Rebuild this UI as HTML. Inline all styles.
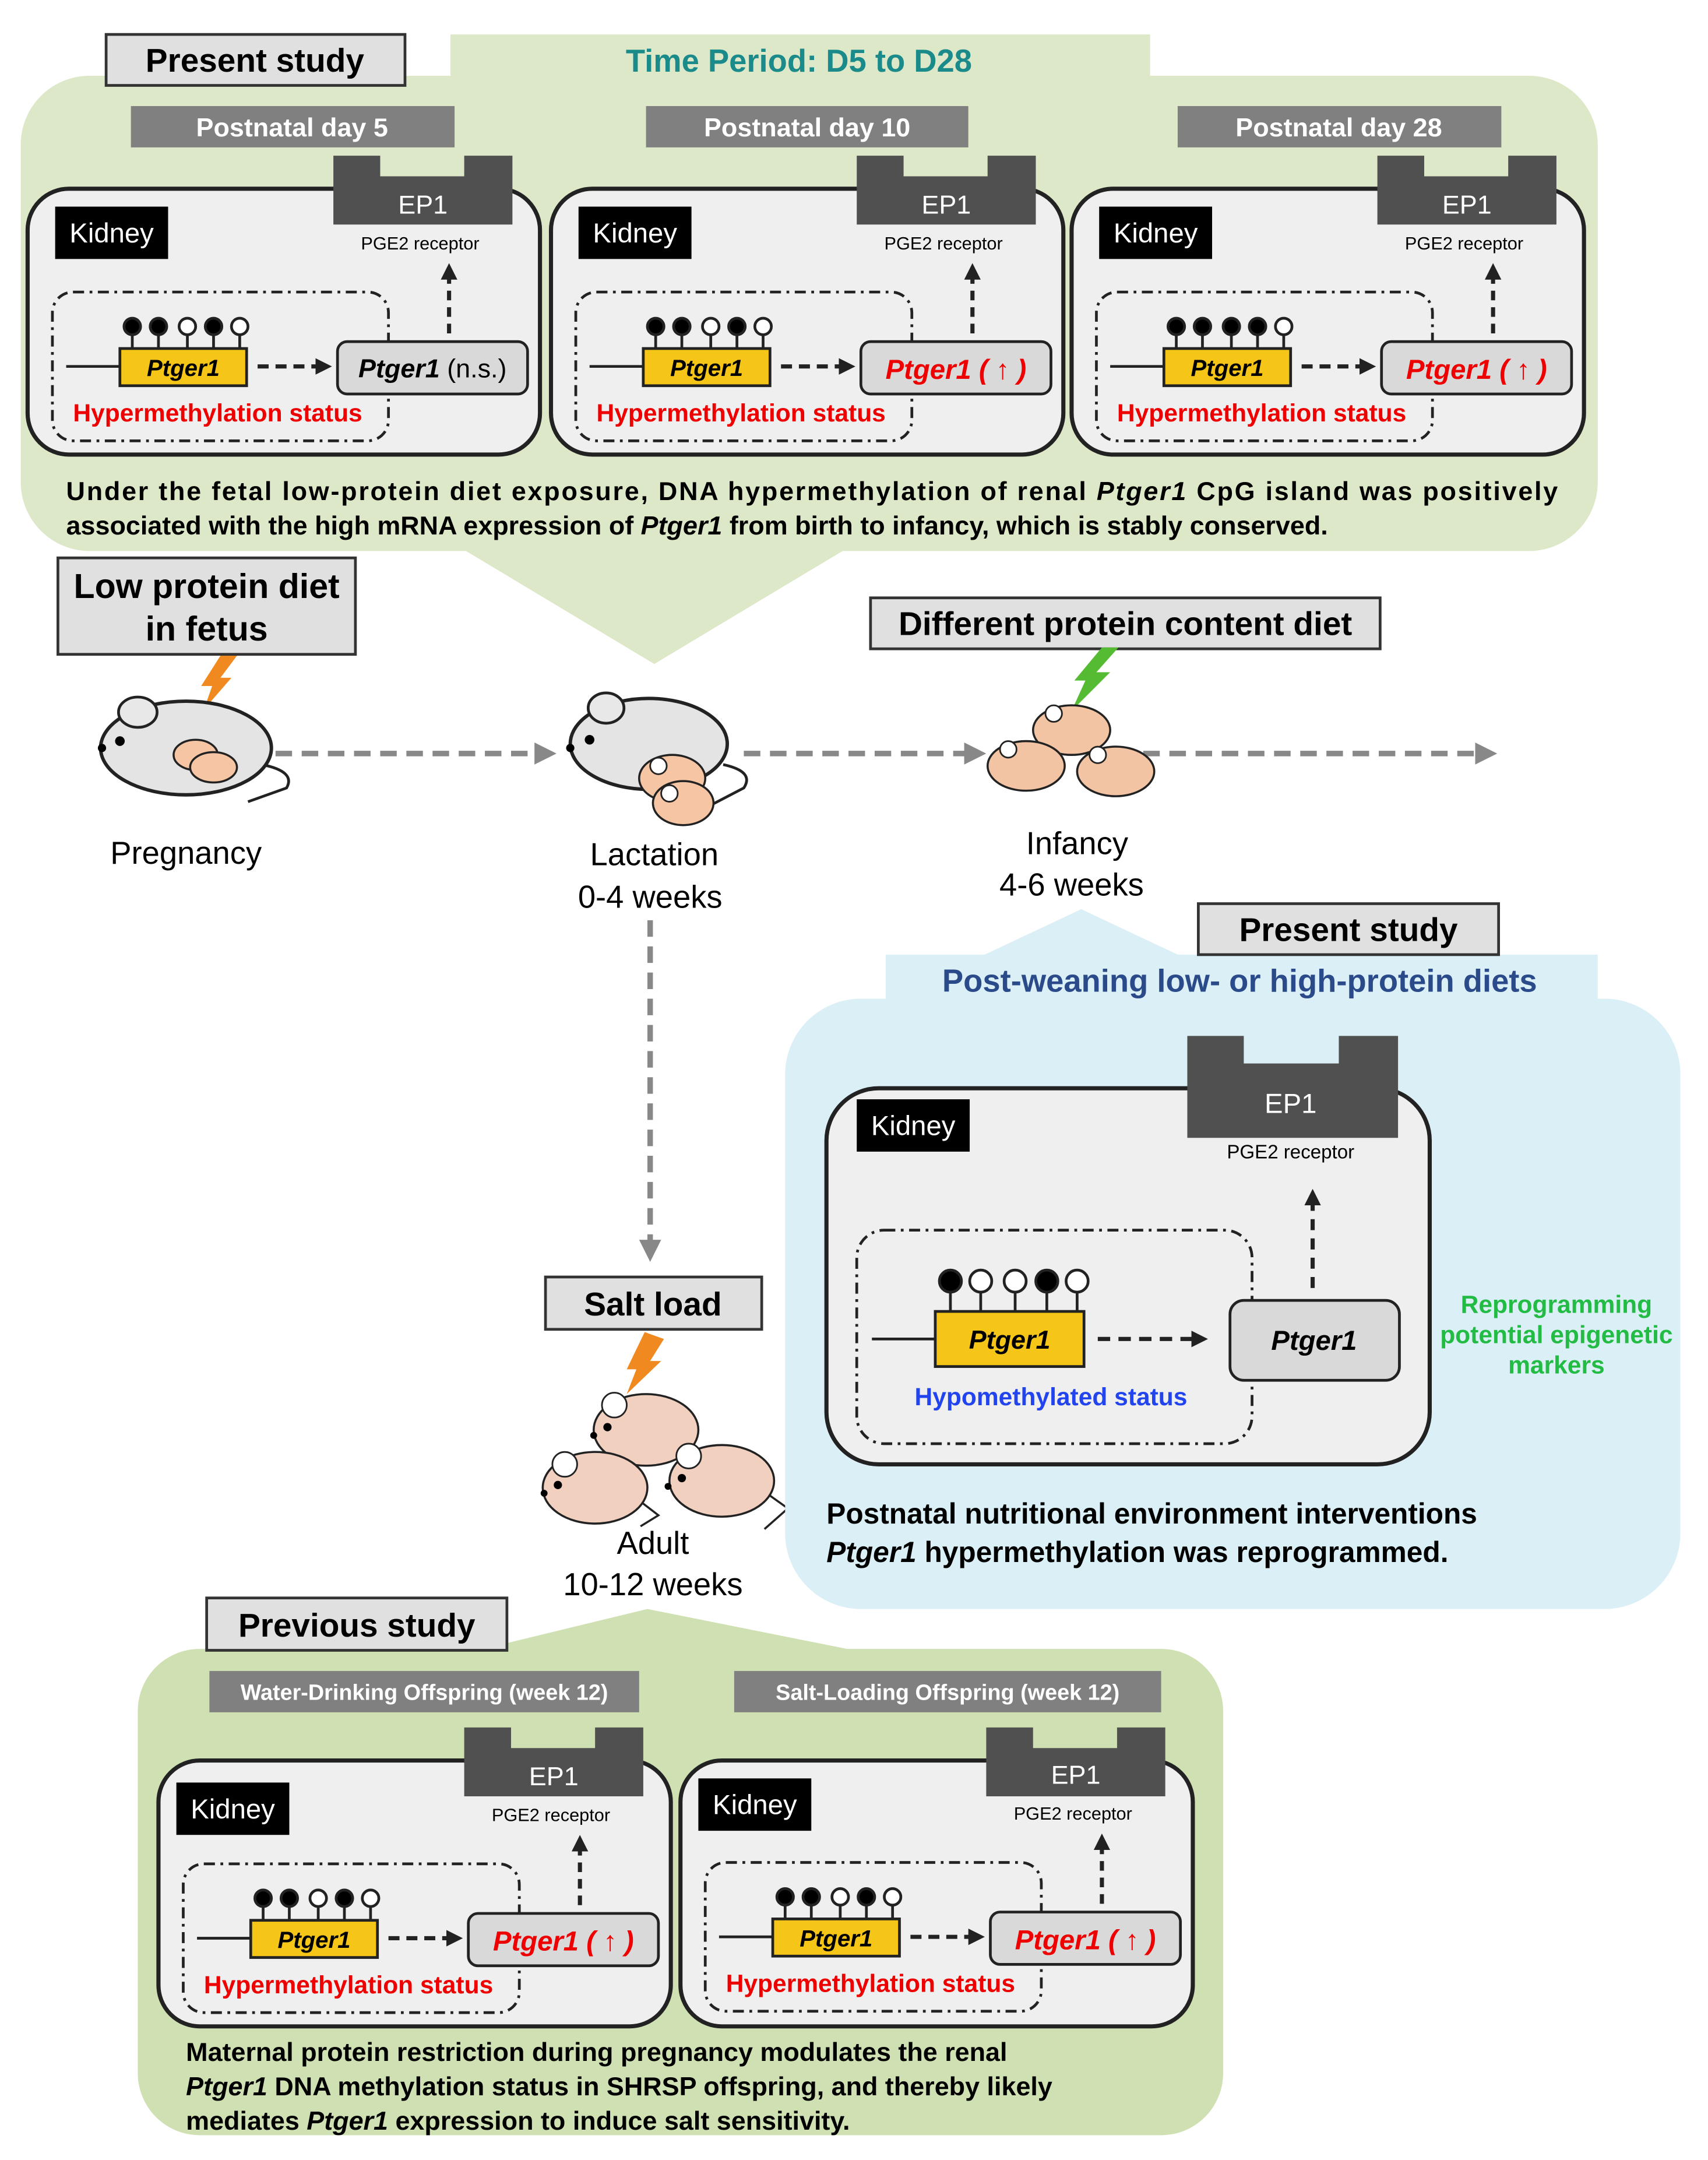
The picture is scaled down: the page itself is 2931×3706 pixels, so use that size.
<!DOCTYPE html>
<html><head><meta charset="utf-8"><style>
html,body{margin:0;padding:0;background:#fff}
svg{display:block}
text{font-family:"Liberation Sans",Arial,sans-serif}
.b{font-weight:bold}
.bi{font-weight:bold;font-style:italic}
</style></head><body>
<svg width="2931" height="3706" viewBox="0 0 1240 1568" xmlns="http://www.w3.org/2000/svg">
<defs>
<marker id="ah" markerWidth="4" markerHeight="4" refX="3" refY="2" orient="auto" markerUnits="strokeWidth"><path d="M0,0 L4,2 L0,4 z" fill="#222"/></marker>
<marker id="ag" markerWidth="4" markerHeight="4" refX="3" refY="2" orient="auto" markerUnits="strokeWidth"><path d="M0,0 L4,2 L0,4 z" fill="#888"/></marker>
</defs>

<!-- TOP GREEN -->
<g fill="#dce8c8">
<rect x="327" y="25" width="508" height="45"/>
<rect x="15" y="55" width="1145" height="345" rx="50"/>
<polygon points="330,395 620,395 475,482"/>
</g>
<rect x="77" y="25" width="217" height="37" fill="#e0e0e0" stroke="#333" stroke-width="2"/>
<text x="185" y="52" font-size="24" class="b" text-anchor="middle">Present study</text>
<text x="580" y="52" font-size="23" class="b" fill="#1a8a8a" text-anchor="middle">Time  Period: D5 to D28</text>
<rect x="95" y="77" width="235" height="30" fill="#808080"/>
<text x="212" y="99" font-size="19" class="b" fill="#fff" text-anchor="middle">Postnatal day 5</text>
<rect x="469" y="77" width="234" height="30" fill="#808080"/>
<text x="586" y="99" font-size="19" class="b" fill="#fff" text-anchor="middle">Postnatal day 10</text>
<rect x="855" y="77" width="235" height="30" fill="#808080"/>
<text x="972" y="99" font-size="19" class="b" fill="#fff" text-anchor="middle">Postnatal day 28</text>

<!-- panel 1 -->
<g transform="translate(0,0)">
<rect x="20" y="137" width="372" height="193" rx="30" fill="#efefef" stroke="#222" stroke-width="3"/>
<path d="M242,113 H276 V128 H337 V113 H372 V163 H242 Z" fill="#505050"/>
<text x="307" y="155" font-size="19" fill="#fff" text-anchor="middle">EP1</text>
<text x="305" y="181" font-size="13" text-anchor="middle">PGE2 receptor</text>
<rect x="40" y="150" width="82" height="38" fill="#000"/>
<text x="81" y="176" font-size="20" fill="#fff" text-anchor="middle">Kidney</text>
<rect x="38" y="212" width="244" height="108" rx="15" fill="none" stroke="#222" stroke-width="2" stroke-dasharray="8,4,2,4"/>
<line x1="326" y1="242" x2="326" y2="194" stroke="#222" stroke-width="3" stroke-dasharray="7,5" marker-end="url(#ah)"/>
<line x1="48" y1="266" x2="88" y2="266" stroke="#222" stroke-width="2"/>
<g stroke="#222" stroke-width="2"><line x1="96" y1="240" x2="96" y2="253"/><line x1="115" y1="240" x2="115" y2="253"/><line x1="136" y1="240" x2="136" y2="253"/><line x1="155" y1="240" x2="155" y2="253"/><line x1="174" y1="240" x2="174" y2="253"/>
<circle cx="96" cy="237" r="6" fill="#000"/><circle cx="115" cy="237" r="6" fill="#000"/><circle cx="136" cy="237" r="6" fill="#fff"/><circle cx="155" cy="237" r="6" fill="#000"/><circle cx="174" cy="237" r="6" fill="#fff"/></g>
<rect x="87" y="253" width="92" height="27" fill="#f5c518" stroke="#222" stroke-width="2"/>
<text x="133" y="273" font-size="17" class="bi" text-anchor="middle">Ptger1</text>
<line x1="187" y1="266" x2="238" y2="266" stroke="#222" stroke-width="3" stroke-dasharray="8,5" marker-end="url(#ah)"/>
<rect x="245" y="248" width="138" height="38" rx="7" fill="#d9d9d9" stroke="#222" stroke-width="2"/>
<text x="314" y="274" font-size="19" text-anchor="middle"><tspan class="bi">Ptger1</tspan> (n.s.)</text>
<text x="158" y="306" font-size="18" class="b" fill="#e00" text-anchor="middle">Hypermethylation status</text>
</g>

<!-- panel 2 -->
<g transform="translate(380,0)">
<rect x="20" y="137" width="372" height="193" rx="30" fill="#efefef" stroke="#222" stroke-width="3"/>
<path d="M242,113 H276 V128 H337 V113 H372 V163 H242 Z" fill="#505050"/>
<text x="307" y="155" font-size="19" fill="#fff" text-anchor="middle">EP1</text>
<text x="305" y="181" font-size="13" text-anchor="middle">PGE2 receptor</text>
<rect x="40" y="150" width="82" height="38" fill="#000"/>
<text x="81" y="176" font-size="20" fill="#fff" text-anchor="middle">Kidney</text>
<rect x="38" y="212" width="244" height="108" rx="15" fill="none" stroke="#222" stroke-width="2" stroke-dasharray="8,4,2,4"/>
<line x1="326" y1="242" x2="326" y2="194" stroke="#222" stroke-width="3" stroke-dasharray="7,5" marker-end="url(#ah)"/>
<line x1="48" y1="266" x2="88" y2="266" stroke="#222" stroke-width="2"/>
<g stroke="#222" stroke-width="2"><line x1="96" y1="240" x2="96" y2="253"/><line x1="115" y1="240" x2="115" y2="253"/><line x1="136" y1="240" x2="136" y2="253"/><line x1="155" y1="240" x2="155" y2="253"/><line x1="174" y1="240" x2="174" y2="253"/>
<circle cx="96" cy="237" r="6" fill="#000"/><circle cx="115" cy="237" r="6" fill="#000"/><circle cx="136" cy="237" r="6" fill="#fff"/><circle cx="155" cy="237" r="6" fill="#000"/><circle cx="174" cy="237" r="6" fill="#fff"/></g>
<rect x="87" y="253" width="92" height="27" fill="#f5c518" stroke="#222" stroke-width="2"/>
<text x="133" y="273" font-size="17" class="bi" text-anchor="middle">Ptger1</text>
<line x1="187" y1="266" x2="238" y2="266" stroke="#222" stroke-width="3" stroke-dasharray="8,5" marker-end="url(#ah)"/>
<rect x="245" y="248" width="138" height="38" rx="7" fill="#d9d9d9" stroke="#222" stroke-width="2"/>
<text x="314" y="275" font-size="20" class="bi" fill="#e00" text-anchor="middle">Ptger1 ( ↑ )</text>
<text x="158" y="306" font-size="18" class="b" fill="#e00" text-anchor="middle">Hypermethylation status</text>
</g>

<!-- panel 3 -->
<g transform="translate(758,0)">
<rect x="20" y="137" width="372" height="193" rx="30" fill="#efefef" stroke="#222" stroke-width="3"/>
<path d="M242,113 H276 V128 H337 V113 H372 V163 H242 Z" fill="#505050"/>
<text x="307" y="155" font-size="19" fill="#fff" text-anchor="middle">EP1</text>
<text x="305" y="181" font-size="13" text-anchor="middle">PGE2 receptor</text>
<rect x="40" y="150" width="82" height="38" fill="#000"/>
<text x="81" y="176" font-size="20" fill="#fff" text-anchor="middle">Kidney</text>
<rect x="38" y="212" width="244" height="108" rx="15" fill="none" stroke="#222" stroke-width="2" stroke-dasharray="8,4,2,4"/>
<line x1="326" y1="242" x2="326" y2="194" stroke="#222" stroke-width="3" stroke-dasharray="7,5" marker-end="url(#ah)"/>
<line x1="48" y1="266" x2="88" y2="266" stroke="#222" stroke-width="2"/>
<g stroke="#222" stroke-width="2"><line x1="96" y1="240" x2="96" y2="253"/><line x1="115" y1="240" x2="115" y2="253"/><line x1="136" y1="240" x2="136" y2="253"/><line x1="155" y1="240" x2="155" y2="253"/><line x1="174" y1="240" x2="174" y2="253"/>
<circle cx="96" cy="237" r="6" fill="#000"/><circle cx="115" cy="237" r="6" fill="#000"/><circle cx="136" cy="237" r="6" fill="#000"/><circle cx="155" cy="237" r="6" fill="#000"/><circle cx="174" cy="237" r="6" fill="#fff"/></g>
<rect x="87" y="253" width="92" height="27" fill="#f5c518" stroke="#222" stroke-width="2"/>
<text x="133" y="273" font-size="17" class="bi" text-anchor="middle">Ptger1</text>
<line x1="187" y1="266" x2="238" y2="266" stroke="#222" stroke-width="3" stroke-dasharray="8,5" marker-end="url(#ah)"/>
<rect x="245" y="248" width="138" height="38" rx="7" fill="#d9d9d9" stroke="#222" stroke-width="2"/>
<text x="314" y="275" font-size="20" class="bi" fill="#e00" text-anchor="middle">Ptger1 ( ↑ )</text>
<text x="158" y="306" font-size="18" class="b" fill="#e00" text-anchor="middle">Hypermethylation status</text>
</g>

<text x="48" y="363" font-size="19" class="b" textLength="1083" lengthAdjust="spacing">Under the fetal low-protein diet exposure, DNA hypermethylation of renal <tspan class="bi">Ptger1</tspan> CpG island was positively</text>
<text x="48" y="388" font-size="19" class="b">associated with the high mRNA expression of <tspan class="bi">Ptger1</tspan> from birth to infancy, which is stably conserved.</text>

<!-- middle timeline -->
<rect x="42" y="405" width="216" height="70" fill="#e0e0e0" stroke="#333" stroke-width="2"/>
<text x="150" y="434" font-size="25" class="b" text-anchor="middle">Low protein diet</text>
<text x="150" y="465" font-size="25" class="b" text-anchor="middle">in fetus</text>
<rect x="632" y="434" width="370" height="37" fill="#e0e0e0" stroke="#333" stroke-width="2"/>
<text x="817" y="461" font-size="24" class="b" text-anchor="middle">Different protein content diet</text>

<line x1="200" y1="547" x2="400" y2="547" stroke="#888" stroke-width="4" stroke-dasharray="12,7" marker-end="url(#ag)"/>
<line x1="540" y1="547" x2="712" y2="547" stroke="#888" stroke-width="4" stroke-dasharray="12,7" marker-end="url(#ag)"/>
<line x1="830" y1="547" x2="1083" y2="547" stroke="#888" stroke-width="4" stroke-dasharray="12,7" marker-end="url(#ag)"/>
<line x1="472" y1="668" x2="472" y2="912" stroke="#888" stroke-width="4" stroke-dasharray="12,7" marker-end="url(#ag)"/>

<!-- pregnancy mouse -->
<polygon points="160,476 172,476 160,492 168,492 148,515 154,498 146,498" fill="#f08a20"/>
<path d="M190,555 Q215,560 208,572 L180,582" fill="none" stroke="#222" stroke-width="2"/>
<ellipse cx="135" cy="543" rx="62" ry="34" fill="#e4e4e4" stroke="#222" stroke-width="2.5"/>
<ellipse cx="100" cy="517" rx="14" ry="11" fill="#e8e8e8" stroke="#222" stroke-width="2"/>
<circle cx="87" cy="538" r="3.5" fill="#000"/><circle cx="74" cy="543" r="3" fill="#000"/>
<ellipse cx="142" cy="548" rx="16" ry="11" fill="#f6c6a4" stroke="#222" stroke-width="1.5"/>
<ellipse cx="155" cy="557" rx="17" ry="11" fill="#f6c6a4" stroke="#222" stroke-width="1.5"/>

<!-- lactation mouse -->
<path d="M525,555 Q548,560 540,572 L515,585" fill="none" stroke="#222" stroke-width="2"/>
<ellipse cx="471" cy="540" rx="57" ry="33" fill="#e4e4e4" stroke="#222" stroke-width="2.5"/>
<ellipse cx="440" cy="514" rx="13" ry="11" fill="#e8e8e8" stroke="#222" stroke-width="2"/>
<circle cx="428" cy="537" r="3.5" fill="#000"/><circle cx="414" cy="543" r="3" fill="#000"/>
<ellipse cx="488" cy="565" rx="24" ry="17" fill="#f6c6a4" stroke="#222" stroke-width="1.5"/>
<ellipse cx="496" cy="583" rx="22" ry="16" fill="#f6c6a4" stroke="#222" stroke-width="1.5"/>
<circle cx="478" cy="556" r="6" fill="#fff" stroke="#222" stroke-width="1.2"/>
<circle cx="486" cy="576" r="6" fill="#fff" stroke="#222" stroke-width="1.2"/>

<!-- infancy mice -->
<polygon points="800,470 812,470 796,488 806,488 778,516 788,494 780,494" fill="#55bb33"/>
<ellipse cx="778" cy="530" rx="28" ry="18" fill="#f3c4a4" stroke="#222" stroke-width="1.5"/>
<ellipse cx="745" cy="556" rx="28" ry="18" fill="#f3c4a4" stroke="#222" stroke-width="1.5"/>
<ellipse cx="810" cy="560" rx="28" ry="18" fill="#f3c4a4" stroke="#222" stroke-width="1.5"/>
<circle cx="765" cy="518" r="6" fill="#fff" stroke="#222" stroke-width="1.2"/>
<circle cx="732" cy="544" r="6" fill="#fff" stroke="#222" stroke-width="1.2"/>
<circle cx="797" cy="548" r="6" fill="#fff" stroke="#222" stroke-width="1.2"/>

<text x="135" y="627" font-size="23" text-anchor="middle">Pregnancy</text>
<text x="475" y="628" font-size="23" text-anchor="middle">Lactation</text>
<text x="472" y="659" font-size="23" text-anchor="middle">0-4 weeks</text>
<text x="782" y="620" font-size="23" text-anchor="middle">Infancy</text>
<text x="778" y="650" font-size="23" text-anchor="middle">4-6 weeks</text>

<!-- salt load -->
<rect x="396" y="927" width="157" height="38" fill="#e0e0e0" stroke="#333" stroke-width="2"/>
<text x="474" y="955" font-size="24" class="b" text-anchor="middle">Salt load</text>
<polygon points="468,967 482,972 472,988 480,988 455,1012 462,994 455,994" fill="#f08a20"/>
<g stroke="#222" stroke-width="1.5" fill="none"><path d="M500,1050 L512,1058 L500,1068"/><path d="M465,1090 L478,1100 L465,1108"/><path d="M558,1085 L572,1095 L555,1110"/></g>
<ellipse cx="469" cy="1038" rx="38" ry="26" fill="#f1d0c0" stroke="#222" stroke-width="1.5"/>
<ellipse cx="432" cy="1080" rx="38" ry="26" fill="#f1d0c0" stroke="#222" stroke-width="1.5"/>
<ellipse cx="524" cy="1075" rx="38" ry="26" fill="#f1d0c0" stroke="#222" stroke-width="1.5"/>
<g fill="#fff" stroke="#222" stroke-width="1.2"><circle cx="446" cy="1020" r="9"/><circle cx="410" cy="1063" r="9"/><circle cx="500" cy="1057" r="9"/></g>
<g fill="#000"><circle cx="441" cy="1036" r="3"/><circle cx="405" cy="1078" r="3"/><circle cx="495" cy="1073" r="3"/><circle cx="431" cy="1042" r="2.5"/><circle cx="395" cy="1084" r="2.5"/><circle cx="485" cy="1079" r="2.5"/></g>
<text x="474" y="1128" font-size="23" text-anchor="middle">Adult</text>
<text x="474" y="1158" font-size="23" text-anchor="middle">10-12 weeks</text>

<!-- BLUE REGION -->
<g fill="#dbeff6">
<rect x="643" y="693" width="517" height="45"/>
<rect x="570" y="725" width="650" height="443" rx="55"/>
<polygon points="700,700 870,700 785,660"/>
</g>
<rect x="870" y="656" width="218" height="37" fill="#e0e0e0" stroke="#333" stroke-width="2"/>
<text x="979" y="683" font-size="24" class="b" text-anchor="middle">Present study</text>
<text x="900" y="720" font-size="23" class="b" fill="#2a4a8a" text-anchor="middle">Post-weaning low- or high-protein diets</text>
<rect x="600" y="790" width="438" height="273" rx="38" fill="#efefef" stroke="#222" stroke-width="3"/>
<path d="M862,752 H903 V772 H972 V752 H1015 V826 H862 Z" fill="#505050"/>
<text x="937" y="808" font-size="20" fill="#fff" text-anchor="middle">EP1</text>
<text x="937" y="841" font-size="14" text-anchor="middle">PGE2 receptor</text>
<rect x="622" y="798" width="82" height="38" fill="#000"/>
<text x="663" y="824" font-size="20" fill="#fff" text-anchor="middle">Kidney</text>
<rect x="622" y="893" width="287" height="155" rx="20" fill="none" stroke="#222" stroke-width="2" stroke-dasharray="8,4,2,4"/>
<line x1="953" y1="935" x2="953" y2="866" stroke="#222" stroke-width="3" stroke-dasharray="8,6" marker-end="url(#ah)"/>
<line x1="633" y1="972" x2="680" y2="972" stroke="#222" stroke-width="2"/>
<g stroke="#222" stroke-width="2"><line x1="690" y1="935" x2="690" y2="952"/><line x1="712" y1="935" x2="712" y2="952"/><line x1="737" y1="935" x2="737" y2="952"/><line x1="760" y1="935" x2="760" y2="952"/><line x1="782" y1="935" x2="782" y2="952"/>
<circle cx="690" cy="930" r="8" fill="#000"/><circle cx="712" cy="930" r="8" fill="#fff"/><circle cx="737" cy="930" r="8" fill="#fff"/><circle cx="760" cy="930" r="8" fill="#000"/><circle cx="782" cy="930" r="8" fill="#fff"/></g>
<rect x="679" y="952" width="108" height="40" fill="#f5c518" stroke="#222" stroke-width="2"/>
<text x="733" y="979" font-size="19" class="bi" text-anchor="middle">Ptger1</text>
<line x1="797" y1="972" x2="874" y2="972" stroke="#222" stroke-width="3" stroke-dasharray="9,6" marker-end="url(#ah)"/>
<rect x="893" y="944" width="123" height="58" rx="10" fill="#d9d9d9" stroke="#222" stroke-width="2"/>
<text x="954" y="980" font-size="20" class="bi" text-anchor="middle">Ptger1</text>
<text x="763" y="1020" font-size="18" class="b" fill="#2244ee" text-anchor="middle">Hypomethylated status</text>
<text x="1130" y="953" font-size="18" class="b" fill="#22bb44" text-anchor="middle">Reprogramming</text>
<text x="1130" y="975" font-size="18" class="b" fill="#22bb44" text-anchor="middle">potential epigenetic</text>
<text x="1130" y="997" font-size="18" class="b" fill="#22bb44" text-anchor="middle">markers</text>
<text x="600" y="1106" font-size="21" class="b">Postnatal nutritional environment interventions</text>
<text x="600" y="1134" font-size="21" class="b"><tspan class="bi">Ptger1</tspan> hypermethylation was reprogrammed.</text>

<!-- BOTTOM GREEN -->
<g fill="#cfe0b2">
<rect x="100" y="1197" width="788" height="353" rx="45"/>
<polygon points="330,1202 640,1202 470,1168"/>
</g>
<rect x="150" y="1160" width="218" height="38" fill="#e0e0e0" stroke="#333" stroke-width="2"/>
<text x="259" y="1188" font-size="24" class="b" text-anchor="middle">Previous study</text>
<rect x="152" y="1213" width="312" height="30" fill="#808080"/>
<text x="308" y="1234" font-size="16" class="b" fill="#fff" text-anchor="middle">Water-Drinking Offspring (week 12)</text>
<rect x="533" y="1213" width="310" height="30" fill="#808080"/>
<text x="688" y="1234" font-size="16" class="b" fill="#fff" text-anchor="middle">Salt-Loading Offspring (week 12)</text>

<g transform="translate(95,1141)">
<rect x="20" y="137" width="372" height="193" rx="30" fill="#efefef" stroke="#222" stroke-width="3"/>
<path d="M242,113 H276 V128 H337 V113 H372 V163 H242 Z" fill="#505050"/>
<text x="307" y="155" font-size="19" fill="#fff" text-anchor="middle">EP1</text>
<text x="305" y="181" font-size="13" text-anchor="middle">PGE2 receptor</text>
<rect x="33" y="153" width="82" height="38" fill="#000"/>
<text x="74" y="179" font-size="20" fill="#fff" text-anchor="middle">Kidney</text>
<rect x="38" y="212" width="244" height="108" rx="15" fill="none" stroke="#222" stroke-width="2" stroke-dasharray="8,4,2,4"/>
<line x1="326" y1="242" x2="326" y2="194" stroke="#222" stroke-width="3" stroke-dasharray="7,5" marker-end="url(#ah)"/>
<line x1="48" y1="266" x2="88" y2="266" stroke="#222" stroke-width="2"/>
<g stroke="#222" stroke-width="2"><line x1="96" y1="240" x2="96" y2="253"/><line x1="115" y1="240" x2="115" y2="253"/><line x1="136" y1="240" x2="136" y2="253"/><line x1="155" y1="240" x2="155" y2="253"/><line x1="174" y1="240" x2="174" y2="253"/>
<circle cx="96" cy="237" r="6" fill="#000"/><circle cx="115" cy="237" r="6" fill="#000"/><circle cx="136" cy="237" r="6" fill="#fff"/><circle cx="155" cy="237" r="6" fill="#000"/><circle cx="174" cy="237" r="6" fill="#fff"/></g>
<rect x="87" y="253" width="92" height="27" fill="#f5c518" stroke="#222" stroke-width="2"/>
<text x="133" y="273" font-size="17" class="bi" text-anchor="middle">Ptger1</text>
<line x1="187" y1="266" x2="238" y2="266" stroke="#222" stroke-width="3" stroke-dasharray="8,5" marker-end="url(#ah)"/>
<rect x="245" y="248" width="138" height="38" rx="7" fill="#d9d9d9" stroke="#222" stroke-width="2"/>
<text x="314" y="275" font-size="20" class="bi" fill="#e00" text-anchor="middle">Ptger1 ( ↑ )</text>
<text x="158" y="306" font-size="18" class="b" fill="#e00" text-anchor="middle">Hypermethylation status</text>
</g>

<g transform="translate(474,1138)">
<rect x="20" y="140" width="372" height="193" rx="30" fill="#efefef" stroke="#222" stroke-width="3"/>
<path d="M242,116 H276 V131 H337 V116 H372 V166 H242 Z" fill="#505050"/>
<text x="307" y="157" font-size="19" fill="#fff" text-anchor="middle">EP1</text>
<text x="305" y="183" font-size="13" text-anchor="middle">PGE2 receptor</text>
<rect x="33" y="153" width="82" height="38" fill="#000"/>
<text x="74" y="179" font-size="20" fill="#fff" text-anchor="middle">Kidney</text>
<rect x="38" y="214" width="244" height="108" rx="15" fill="none" stroke="#222" stroke-width="2" stroke-dasharray="8,4,2,4"/>
<line x1="326" y1="244" x2="326" y2="196" stroke="#222" stroke-width="3" stroke-dasharray="7,5" marker-end="url(#ah)"/>
<line x1="48" y1="268" x2="88" y2="268" stroke="#222" stroke-width="2"/>
<g stroke="#222" stroke-width="2"><line x1="96" y1="242" x2="96" y2="255"/><line x1="115" y1="242" x2="115" y2="255"/><line x1="136" y1="242" x2="136" y2="255"/><line x1="155" y1="242" x2="155" y2="255"/><line x1="174" y1="242" x2="174" y2="255"/>
<circle cx="96" cy="239" r="6" fill="#000"/><circle cx="115" cy="239" r="6" fill="#000"/><circle cx="136" cy="239" r="6" fill="#fff"/><circle cx="155" cy="239" r="6" fill="#000"/><circle cx="174" cy="239" r="6" fill="#fff"/></g>
<rect x="87" y="255" width="92" height="27" fill="#f5c518" stroke="#222" stroke-width="2"/>
<text x="133" y="275" font-size="17" class="bi" text-anchor="middle">Ptger1</text>
<line x1="187" y1="268" x2="238" y2="268" stroke="#222" stroke-width="3" stroke-dasharray="8,5" marker-end="url(#ah)"/>
<rect x="245" y="250" width="138" height="38" rx="7" fill="#d9d9d9" stroke="#222" stroke-width="2"/>
<text x="314" y="277" font-size="20" class="bi" fill="#e00" text-anchor="middle">Ptger1 ( ↑ )</text>
<text x="158" y="308" font-size="18" class="b" fill="#e00" text-anchor="middle">Hypermethylation status</text>
</g>

<text x="135" y="1496" font-size="19" class="b">Maternal protein restriction during pregnancy modulates the renal</text>
<text x="135" y="1521" font-size="19" class="b"><tspan class="bi">Ptger1</tspan> DNA methylation status in SHRSP offspring, and thereby likely</text>
<text x="135" y="1546" font-size="19" class="b">mediates <tspan class="bi">Ptger1</tspan> expression to induce salt sensitivity.</text>
</svg>
</body></html>
